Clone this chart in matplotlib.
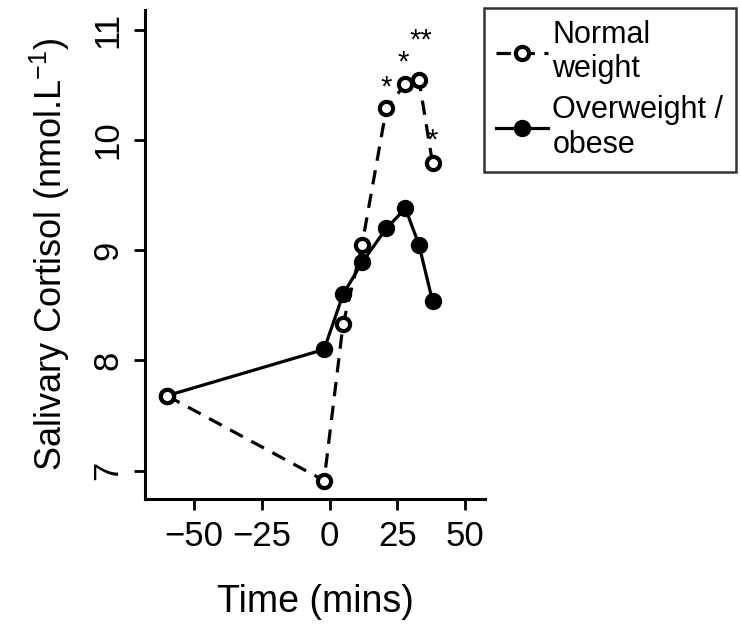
import matplotlib
matplotlib.use("Agg")
import matplotlib.pyplot as plt

# Data
time_mins = [-60, -2, 5, 12, 21, 28, 33, 38]
normal_weight = [7.68, 6.91, 8.33, 9.05, 10.29, 10.51, 10.55, 9.79]
overweight_obese = [7.68, 8.10, 8.60, 8.89, 9.20, 9.38, 9.05, 8.54]

# significance markers placed above the normal weight points
sig_times = [21, 28, 33, 38]
sig_labels = ['*', '*', '**', '*']
sig_dx = [0, -0.7, 0.8, 0]
sig_dy = [0.19, 0.19, 0.35, 0.21]

x_ticks = [-50, -25, 0, 25, 50]
y_ticks = [7, 8, 9, 10, 11]

plt.rcParams['font.family'] = ['Liberation Sans', 'DejaVu Sans']

fig = plt.figure(figsize=(7.41, 6.32), dpi=100)
ax = fig.add_axes([0.196, 0.21, 0.459, 0.774])

ax.plot(time_mins, normal_weight, color='black', lw=2.3, ls=(0, (4.5, 3)),
        marker='o', ms=9.5, mfc='white', mec='black', mew=3,
        label='Normal\nweight', zorder=3)
ax.plot(time_mins, overweight_obese, color='black', lw=2.3, ls='-',
        marker='o', ms=11.5, mfc='black', mec='black',
        label='Overweight /\nobese', zorder=2)

for t, lab, dx, dy in zip(sig_times, sig_labels, sig_dx, sig_dy):
    y = normal_weight[time_mins.index(t)]
    ax.text(t + dx, y + dy, lab, ha='center', va='center', fontsize=21)

ax.set_xlim(-68, 57.5)
ax.set_ylim(6.74, 11.18)
ax.set_xticks(x_ticks)
ax.set_yticks(y_ticks)
ax.set_xticklabels([str(v).replace('-', '\u2212') for v in x_ticks])

for s in ['top', 'right']:
    ax.spines[s].set_visible(False)
for s in ['left', 'bottom']:
    ax.spines[s].set_linewidth(2.2)

ax.tick_params(axis='both', direction='out', length=8, width=2.0,
               labelsize=25, pad=7)
plt.setp(ax.get_yticklabels(), rotation=90, va='center')

ax.set_xlabel('Time (mins)', fontsize=27, labelpad=22)
ax.set_ylabel('Salivary Cortisol (nmol.L$^{\\mathregular{-1}}$)', fontsize=26,
              labelpad=14)

leg = ax.legend(loc='upper left', bbox_to_anchor=(0.995, 1.005), fontsize=22,
                frameon=True, fancybox=False, edgecolor='black',
                handlelength=1.7, handletextpad=0.15, labelspacing=0.35,
                borderpad=0.4, borderaxespad=0)
leg.get_frame().set_linewidth(1.8)

fig.savefig('out.png', dpi=100)
